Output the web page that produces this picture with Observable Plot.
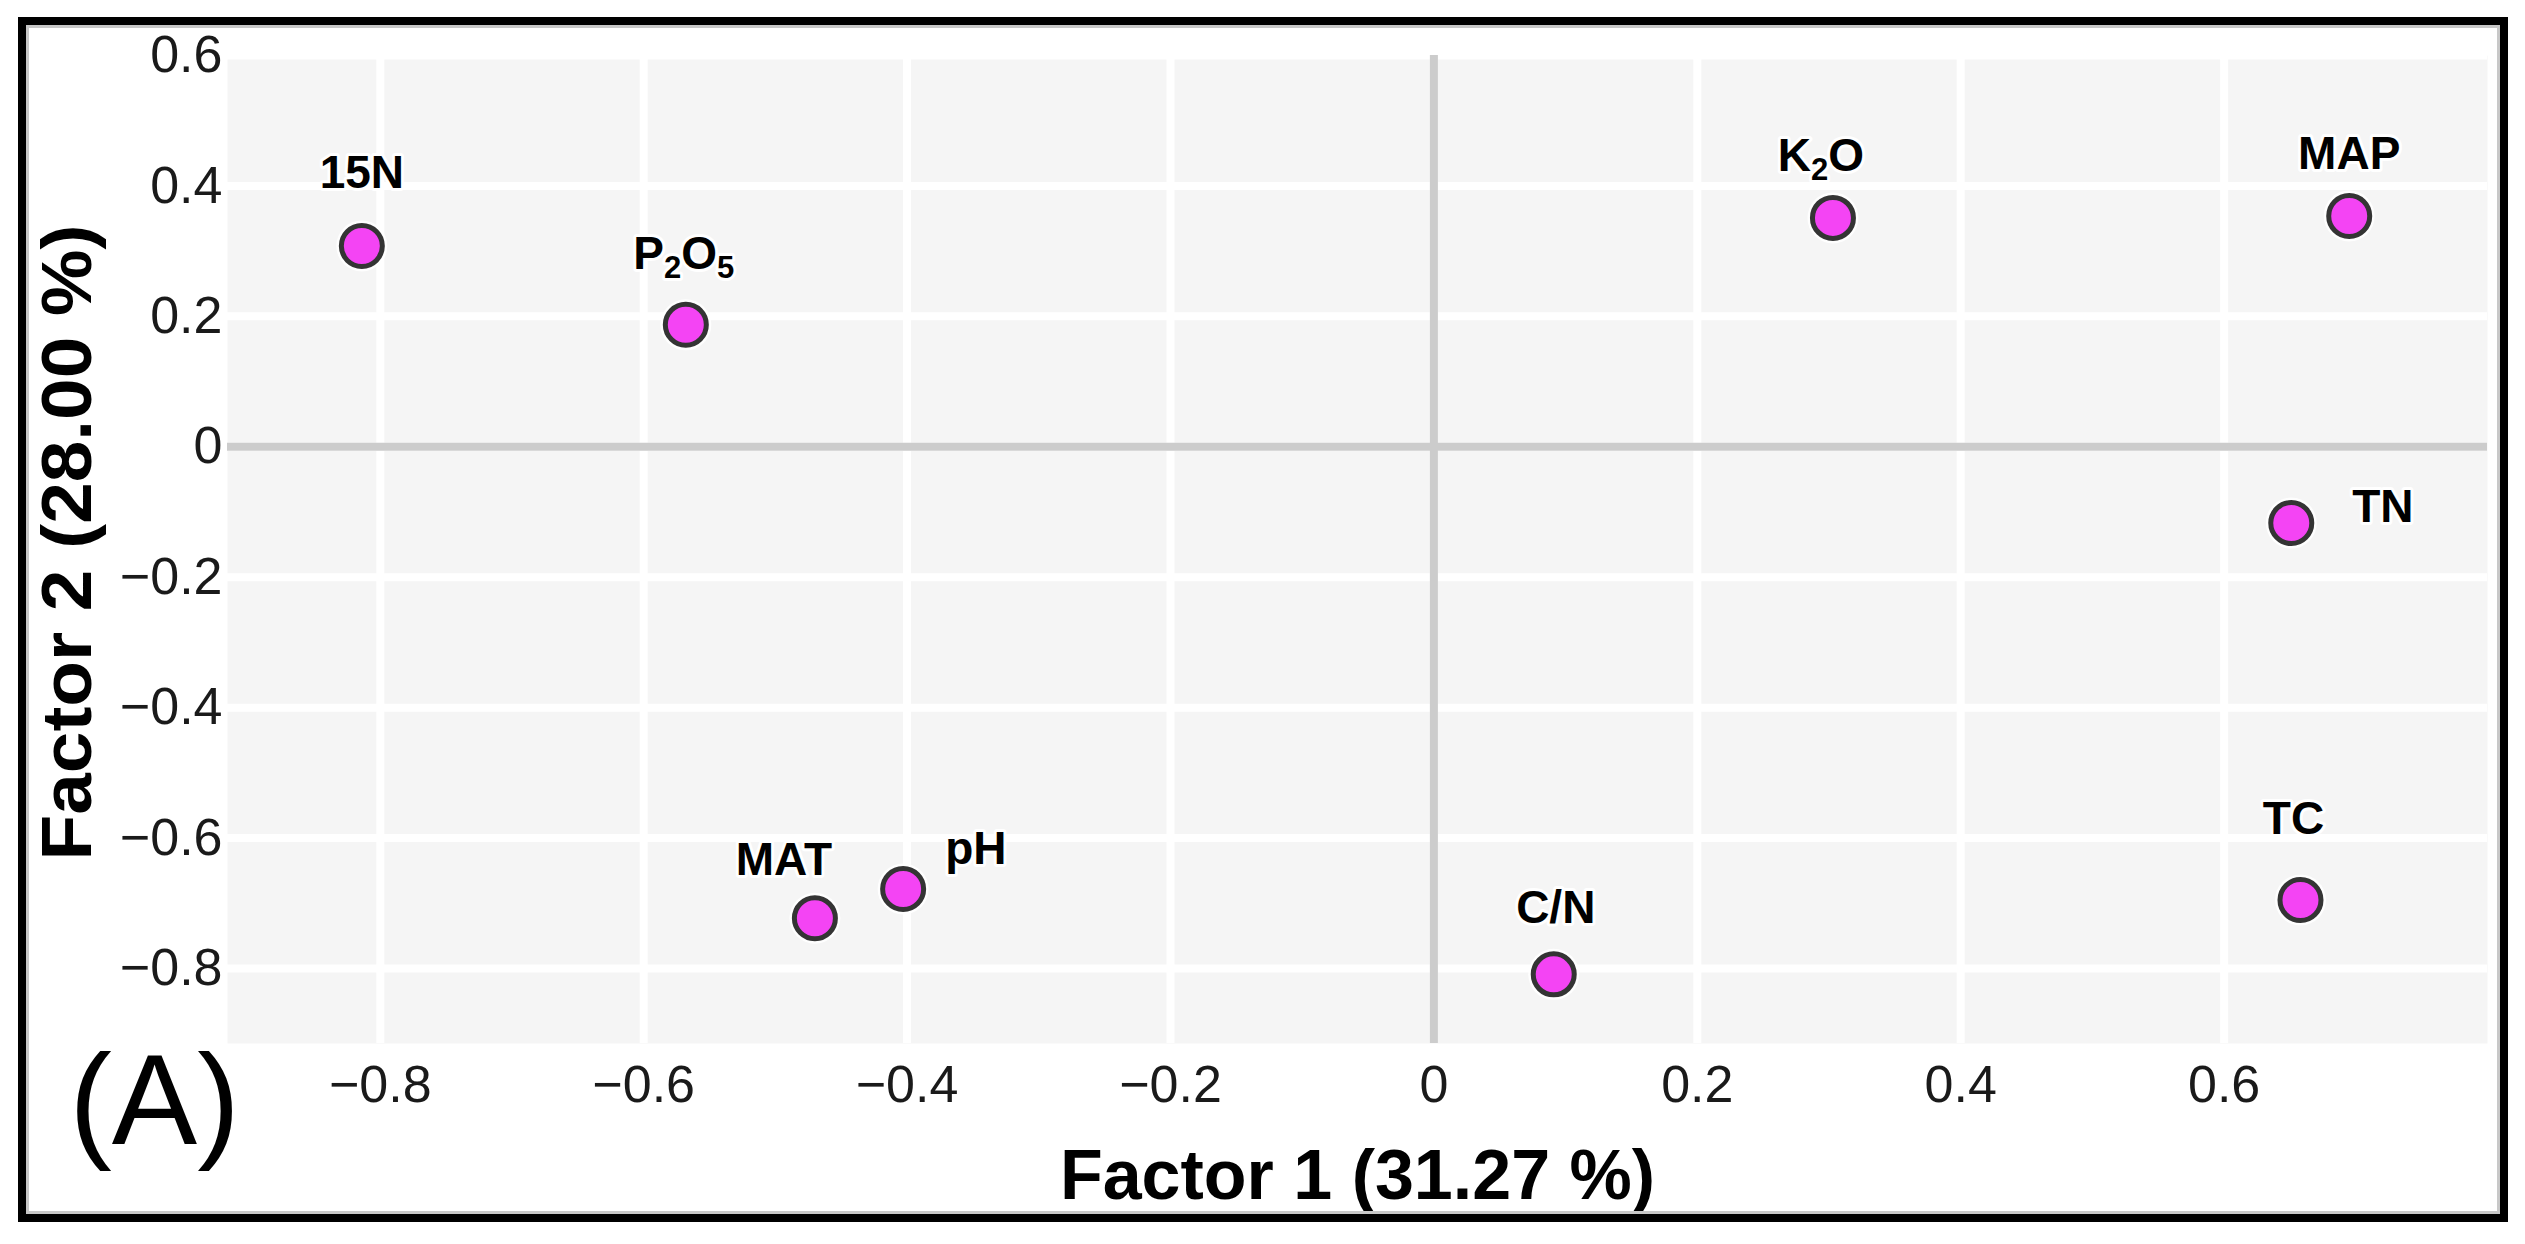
<!DOCTYPE html>
<html>
<head>
<meta charset="utf-8">
<script src="https://cdn.jsdelivr.net/npm/d3@7"></script>
<script src="https://cdn.jsdelivr.net/npm/@observablehq/plot@0.6"></script>
<style>
  html, body { margin: 0; padding: 0; background: #ffffff; }
  svg text { paint-order: stroke; }
</style>
</head>
<body>
<script>
// ---- data ----
const names   = ["15N", "P₂O₅", "MAT", "pH", "C/N", "K₂O", "MAP", "TN", "TC"];
const factor1 = [-0.814, -0.568, -0.470, -0.403, 0.091, 0.303, 0.695, 0.651, 0.658];
const factor2 = [0.308, 0.187, -0.723, -0.678, -0.809, 0.351, 0.354, -0.117, -0.695];
const xTicks  = [-0.8, -0.6, -0.4, -0.2, 0, 0.2, 0.4, 0.6];
const yTicks  = [-0.8, -0.6, -0.4, -0.2, 0, 0.2, 0.4, 0.6];
const xTitle  = "Factor 1 (31.27 %)";
const yTitle  = "Factor 2 (28.00 %)";
const panelTag = "(A)";

const points = names.map((name, i) => ({name, f1: factor1[i], f2: factor2[i]}));

// label placement (pixel nudges, styling only)
const labelNudge = {
  "15N":  {anchor: "middle", dx: 0,   dy: -58},
  "P₂O₅": {anchor: "middle", dx: -2,  dy: -56},
  "MAT":  {anchor: "middle", dx: -31, dy: -43},
  "pH":   {anchor: "start",  dx: 42,  dy: -25},
  "C/N":  {anchor: "middle", dx: 2,   dy: -51},
  "K₂O":  {anchor: "middle", dx: -12, dy: -47},
  "MAP":  {anchor: "middle", dx: 0,   dy: -47},
  "TN":   {anchor: "start",  dx: 61,  dy: -1},
  "TC":   {anchor: "middle", dx: -7,  dy: -66}
};

const fmt = d => d === 0 ? "0" : d3.format(".1f")(d);
const FONT = "'Liberation Sans', Arial, Helvetica, sans-serif";

const labelMarks = names.map(n => Plot.text(points, {
  filter: d => d.name === n,
  x: "f1", y: "f2", text: "name",
  dx: labelNudge[n].dx, dy: labelNudge[n].dy,
  textAnchor: labelNudge[n].anchor,
  lineAnchor: "bottom",
  fontSize: 46, fontWeight: "bold",
  fill: "#000000", stroke: "#ffffff", strokeWidth: 6
}));

const svg = Plot.plot({
  width: 2525,
  height: 1244,
  marginLeft: 227,
  marginRight: 38,
  marginTop: 55,
  marginBottom: 201,
  style: {fontFamily: FONT, fontSize: "52px", color: "#1a1a1a", background: "#ffffff"},
  x: {domain: [-0.916, 0.8], ticks: xTicks, tickFormat: fmt, tickSize: 0, tickPadding: 22, label: null},
  y: {domain: [-0.915, 0.6], ticks: yTicks, tickFormat: fmt, tickSize: 0, tickPadding: 5, label: null},
  marks: [
    Plot.frame({fill: "#f5f5f5", stroke: "none"}),
    Plot.ruleX(xTicks, {stroke: "#ffffff", strokeWidth: 8}),
    Plot.ruleY(yTicks, {stroke: "#ffffff", strokeWidth: 8}),
    Plot.ruleX([0], {stroke: "#cccccc", strokeWidth: 8}),
    Plot.ruleY([0], {stroke: "#cccccc", strokeWidth: 8}),
    Plot.dot(points, {x: "f1", y: "f2", r: 25.5, fill: "#ffffff", stroke: "none", fillOpacity: 0.9}),
    Plot.dot(points, {x: "f1", y: "f2", r: 20.5, fill: "#f444f4", stroke: "#343434", strokeWidth: 5}),
    ...labelMarks,
    Plot.text([xTitle], {frameAnchor: "bottom", lineAnchor: "bottom", textAnchor: "middle", dy: 155,
      fontSize: 70, fontWeight: "bold", fill: "#000000"}),
    Plot.text([yTitle], {frameAnchor: "left", lineAnchor: "bottom", textAnchor: "middle", rotate: -90, dx: -137, dy: -7,
      fontSize: 70, fontWeight: "bold", fill: "#000000"}),
    Plot.text([panelTag], {frameAnchor: "bottom-left", lineAnchor: "bottom", textAnchor: "middle",
      dx: -73, dy: 100, fontSize: 128, fontWeight: "normal", fill: "#000000"})
  ]
});

// subscripts as real text tspans; y title length as in the reference
svg.querySelectorAll("text").forEach(t => {
  const s = t.textContent;
  if (s === yTitle) {
    t.setAttribute("textLength", "636");
    t.setAttribute("lengthAdjust", "spacingAndGlyphs");
    return;
  }
  if (!/[\u2080-\u2089]/.test(s)) return;
  t.textContent = "";
  const ns = "http://www.w3.org/2000/svg";
  let lowered = false;
  for (const ch of s) {
    const code = ch.charCodeAt(0);
    const isSub = code >= 0x2080 && code <= 0x2089;
    const ts = document.createElementNS(ns, "tspan");
    if (isSub) {
      ts.textContent = String.fromCharCode(code - 0x2080 + 48);
      ts.setAttribute("font-size", "31");
      if (!lowered) { ts.setAttribute("dy", "9"); lowered = true; }
    } else {
      ts.textContent = ch;
      if (lowered) { ts.setAttribute("dy", "-9"); lowered = false; }
    }
    t.appendChild(ts);
  }
});

// outer figure frame
const sel = d3.select(svg);
sel.append("rect")
  .attr("x", 27.5).attr("y", 26.5).attr("width", 2471).attr("height", 1186)
  .attr("fill", "none").attr("stroke", "#c8c8c8").attr("stroke-width", 3);
sel.append("rect")
  .attr("x", 22).attr("y", 21).attr("width", 2482).attr("height", 1197)
  .attr("fill", "none").attr("stroke", "#000000").attr("stroke-width", 8);

document.body.appendChild(svg);
</script>
</body>
</html>
